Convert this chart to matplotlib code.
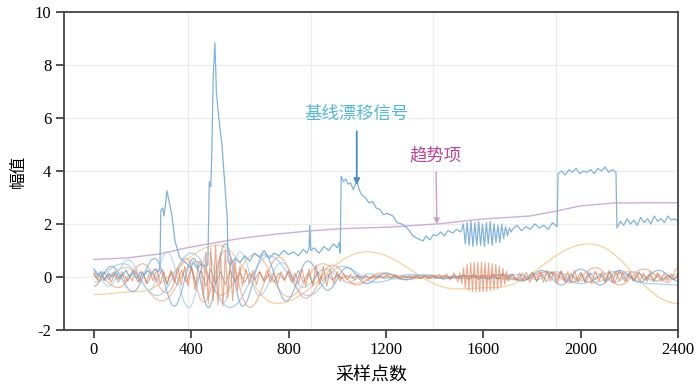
import numpy as np
import matplotlib.pyplot as plt
from matplotlib.path import Path
from matplotlib.patches import PathPatch

plt.rcParams['font.family'] = ['Liberation Serif', 'Noto Sans CJK SC']
plt.rcParams['axes.unicode_minus'] = False

# ---- baseline drift signal (segment by segment) ----
drift_a_y = [0.3, 0.05, 0.2, -0.1, 0.15, 0.0, 0.2, -0.05, 0.1, 0.25, 0.0, 0.15,
             -0.05, 0.2, 0.05, 0.25, 0.1, 0.3, 0.2]                     # x 0..265
drift_b_x = [271, 275, 283, 288, 296, 300, 308, 320, 333, 353, 382,
             395, 410, 425, 440, 455, 468,
             474, 480, 484, 490, 497, 500, 503, 510, 518, 526, 534, 542, 548, 551]
drift_b_y = [0.3, 2.5, 2.6, 2.3, 2.9, 3.25, 2.9, 2.35, 1.36, 0.72, 0.5,
             0.35, 0.55, 0.3, 0.5, 0.4, 0.45,
             3.6, 3.4, 4.5, 7.5, 8.84, 8.0, 7.0, 6.3, 5.6, 5.0, 4.0, 3.0, 2.2, 0.6]
drift_c_x = [560, 580, 600, 620, 640, 660, 680, 700, 720, 740, 760, 780, 800, 820,
             840, 860, 875, 884, 887, 891, 905, 925, 945, 965, 985, 1000, 1008, 1012]
drift_c_y = [0.45, 0.7, 0.55, 0.8, 0.6, 0.9, 0.75, 1.0, 0.7, 0.9, 0.8, 1.0, 0.85, 0.95,
             0.8, 1.05, 0.9, 1.1, 1.95, 1.0, 1.1, 0.9, 1.15, 1.0, 1.25, 1.1, 1.3, 0.9]
drift_d_x = [1016, 1025, 1035, 1045, 1055, 1065, 1075, 1080, 1090, 1100, 1115, 1130,
             1145, 1160, 1175, 1190, 1205, 1229, 1245, 1265, 1286, 1300, 1311, 1330,
             1352, 1365, 1380, 1395, 1409, 1425, 1440, 1455, 1475, 1490, 1505]
drift_d_y = [3.8, 3.6, 3.7, 3.5, 3.55, 3.3, 3.5, 3.6, 3.3, 3.1, 3.0, 2.8,
             2.85, 2.6, 2.55, 2.35, 2.4, 2.3, 2.05, 2.0, 1.85, 1.7, 1.55, 1.45,
             1.36, 1.55, 1.4, 1.6, 1.55, 1.7, 1.55, 1.75, 1.66, 1.8, 1.7]
drift_e_y = [1.75, 2.0, 1.25, 2.05, 1.2, 2.1, 1.15, 2.05, 1.2, 2.1, 1.2, 2.0, 1.15, 2.05,
             1.25, 2.1, 1.2, 2.0, 1.3, 1.95, 1.3, 2.0, 1.45, 1.9, 1.55, 1.85, 1.7]  # x 1510..1715
drift_f_y = [1.8, 1.95, 1.75, 1.9, 1.8, 2.0, 1.85, 1.95, 1.8, 2.05, 1.9]          # x 1720..1903
drift_g_y = [3.9, 4.0, 3.85, 4.05, 3.95, 4.1, 3.9, 4.0, 3.95, 4.05, 3.9, 4.1, 4.0,
             4.15, 3.95, 4.05, 3.95]                                               # x 1907..2145
drift_h_y = [1.85, 2.1, 1.95, 2.2, 2.0, 2.15, 1.95, 2.25, 2.05, 2.2, 2.0, 2.3, 2.1,
             2.2, 2.05, 2.3, 2.15, 2.2, 2.1]                                       # x 2149..2400

# ---- trend term ----
trend_x = [0, 136, 271, 382, 489, 612, 752, 887, 1011, 1175, 1245, 1422, 1586,
           1791, 1902, 1997, 2132, 2272, 2400]
trend_y = [0.66, 0.72, 0.87, 1.1, 1.28, 1.47, 1.62, 1.74, 1.82, 1.87, 1.9, 2.01, 2.18,
           2.3, 2.49, 2.68, 2.79, 2.8, 2.8]

# ---- slow / medium components (extrema) ----
yellow_x = [0, 180, 510, 750, 1120, 1490, 1650, 2035, 2400]
yellow_y = [-0.66, -0.55, 1.2, -1.0, 0.95, -0.45, -0.4, 1.25, -1.0]

steel_x = [0, 70, 160, 250, 330, 410, 470, 540, 610, 700, 790, 880, 960, 1040, 1120,
           1200, 1280, 1360, 1440, 1520, 1600, 1680, 1760, 1840, 1920, 2000, 2080,
           2160, 2240, 2320, 2400]
steel_y = [-0.35, 0.4, -0.55, 0.7, -1.1, 0.7, -1.15, 1.25, -1.1, 0.85, -0.9, 0.6, -0.5,
           0.35, -0.25, 0.15, -0.1, 0.08, -0.06, 0.05, -0.05, 0.1, -0.15, 0.25, -0.3,
           0.3, -0.3, 0.25, -0.2, 0.25, -0.15]

light_x = [0, 60, 140, 230, 300, 390, 470, 530, 600, 680, 770, 860, 950, 1040, 1130,
           1230, 1330, 1430, 1530, 1640, 1740, 1820, 1900, 1980, 2060, 2140, 2220,
           2300, 2400]
light_y = [0.25, -0.35, 0.65, -0.5, 0.95, -1.15, 0.9, -1.0, 0.95, -0.7, 0.55, -0.4, 0.3,
           -0.2, 0.12, -0.08, 0.05, -0.04, 0.04, -0.05, 0.08, -0.1, 0.2, -0.18, 0.15,
           -0.2, 0.2, -0.15, 0.1]

sky_x = [0, 120, 260, 400, 560, 720, 880, 1020, 1160, 1300, 1440, 1580, 1720, 1860,
         2000, 2140, 2280, 2400]
sky_y = [0.0, 0.5, -0.7, 0.9, -1.15, 0.8, -0.7, 0.4, -0.2, 0.1, -0.06, 0.05, -0.1,
         0.18, -0.25, 0.2, -0.25, -0.3]

salmon_x = [0, 100, 200, 300, 380, 450, 540, 640, 760, 870, 980, 1080, 1180, 1280,
            1400, 1520, 1640, 1760, 1860, 1960, 2060, 2160, 2260, 2360, 2400]
salmon_y = [0.15, -0.4, 0.5, -0.6, 0.7, -0.95, 1.0, -1.15, 0.75, -0.8, 0.45, -0.3,
            0.15, -0.1, 0.06, -0.05, 0.08, -0.12, 0.2, -0.2, 0.35, -0.3, 0.3, -0.2, 0.35]

peach_x = [0, 130, 280, 420, 520, 660, 800, 940, 1060, 1200, 1350, 1550, 1750, 1900,
           2050, 2200, 2320, 2400]
peach_y = [-0.2, 0.35, -0.9, 0.6, -0.7, 0.85, -0.75, 0.5, -0.25, 0.1, -0.05, 0.05,
           -0.1, 0.15, -0.2, 0.2, -0.15, 0.1]

# ---- high frequency components (segments of evenly spaced samples) ----
orange_segs = [
    (0, 430, [0.15, -0.1, 0.2, -0.15, 0.1, -0.2, 0.15, -0.1, 0.2, -0.2, 0.1, -0.15, 0.25,
              -0.2, 0.2, -0.25, 0.2, -0.15, 0.3, -0.25, 0.2, -0.3, 0.25, -0.2, 0.35,
              -0.3, 0.4, -0.35, 0.4, -0.5, 0.55]),
    (440, 600, [0.6, -0.8, 0.95, -1.0, 1.1, -0.9, 1.2, -1.05, 0.9, -1.1, 1.0, -0.8, 0.7,
                -0.9, 0.6, -0.5, 0.4]),
    (610, 1000, [-0.35, 0.3, -0.25, 0.25, -0.3, 0.2, -0.15, 0.25, -0.2, 0.15, -0.25, 0.2,
                 -0.15, 0.25, -0.2, 0.15, -0.25, 0.3, -0.35, 0.3, -0.35, 0.45, -0.3, 0.4,
                 -0.35, 0.3, -0.25, 0.2]),
    (1010, 1495, [-0.15, 0.12, -0.1, 0.1, -0.12, 0.08, -0.1, 0.06, -0.08, 0.07, -0.06,
                  0.05, -0.07, 0.06, -0.05, 0.07, -0.06, 0.05, -0.06, 0.07, -0.05, 0.06,
                  -0.07, 0.05, -0.06, 0.08, -0.07, 0.09, -0.1, 0.12, -0.12, 0.15, -0.18]),
    (1504, 1710, [0.15, -0.25, 0.35, -0.42, 0.48, -0.52, 0.55, -0.55, 0.56, -0.56, 0.55,
                  -0.56, 0.55, -0.55, 0.54, -0.55, 0.53, -0.52, 0.5, -0.5, 0.47, -0.45,
                  0.42, -0.38, 0.33, -0.28, 0.22, -0.16, 0.1]),
    (1720, 2400, [0.1, -0.12, 0.15, -0.15, 0.18, -0.2, 0.15, -0.18, 0.22, -0.2, 0.25,
                  -0.15, 0.2, -0.25, 0.18, -0.15, 0.2, -0.22, 0.25, -0.2, 0.15, -0.18,
                  0.2, -0.25, 0.22, -0.15, 0.18, -0.2, 0.25, -0.22, 0.2, -0.15, 0.15,
                  -0.18, 0.2, -0.15, 0.12, -0.15, 0.15, -0.18, 0.2, -0.15, 0.15, -0.12,
                  0.15, -0.15, 0.12, -0.1, 0.08]),
]
dark_segs = [
    (0, 600, [0.1, -0.15, 0.2, -0.1, 0.15, -0.2, 0.1, -0.15, 0.25, -0.2, 0.15, -0.25, 0.2,
              -0.15, 0.3, -0.25, 0.2, -0.3, 0.25, -0.2, 0.35, -0.3, 0.25, -0.35, 0.3,
              -0.25, 0.2, -0.3, 0.25, -0.2, 0.15]),
    (620, 1000, [-0.2, 0.15, -0.1, 0.2, -0.15, 0.1, -0.2, 0.15, -0.1, 0.2, -0.15, 0.25,
                 -0.2, 0.15, -0.25, 0.2, -0.15, 0.1, -0.12, 0.08]),
    (1020, 1500, [-0.06, 0.05, -0.04, 0.05, -0.03, 0.04, -0.05, 0.03, -0.04, 0.05, -0.03,
                  0.04, -0.05, 0.04, -0.03, 0.05, -0.04, 0.03, -0.05, 0.04, -0.03, 0.05,
                  -0.04, 0.06, -0.05]),
    (1520, 1700, [0.08, -0.1, 0.12, -0.1, 0.08, -0.12, 0.1, -0.08, 0.1, -0.06]),
    (1720, 2400, [0.1, -0.12, 0.15, -0.1, 0.18, -0.15, 0.12, -0.18, 0.2, -0.15, 0.25, -0.2,
                  0.15, -0.12, 0.18, -0.2, 0.15, -0.1, 0.12, -0.18, 0.2, -0.22, 0.25,
                  -0.15, 0.12, -0.15, 0.18, -0.12, 0.1, -0.15, 0.12, -0.1, 0.08, -0.1,
                  0.05]),
]

x_ticks = [0, 400, 800, 1200, 1600, 2000, 2400]
y_ticks = [-2, 0, 2, 4, 6, 8, 10]
x_grid = [385, 890, 1393, 1898]


def join(segs):
    xs, ys = [], []
    for a, b, vals in segs:
        xs.extend(np.linspace(a, b, len(vals)))
        ys.extend(vals)
    return np.array(xs), np.array(ys)


def smooth_line(ax, xs, ys, **kw):
    # cubic pieces with flat tangents at each read extremum
    verts = [(xs[0], ys[0])]
    codes = [Path.MOVETO]
    for i in range(1, len(xs)):
        d = (xs[i] - xs[i - 1]) / 2.6
        verts += [(xs[i - 1] + d, ys[i - 1]), (xs[i] - d, ys[i]), (xs[i], ys[i])]
        codes += [Path.CURVE4] * 3
    ax.add_patch(PathPatch(Path(verts, codes), fill=False, **kw))


drift_x = np.concatenate([np.linspace(0, 265, len(drift_a_y)), drift_b_x, drift_c_x,
                          drift_d_x, np.linspace(1510, 1715, len(drift_e_y)),
                          np.linspace(1720, 1903, len(drift_f_y)),
                          np.linspace(1907, 2145, len(drift_g_y)),
                          np.linspace(2149, 2400, len(drift_h_y))])
drift_y = np.concatenate([drift_a_y, drift_b_y, drift_c_y, drift_d_y, drift_e_y,
                          drift_f_y, drift_g_y, drift_h_y])

fig = plt.figure(figsize=(7, 3.89), dpi=100)
ax = fig.add_axes([0.0914, 0.1517, 0.8772, 0.8175])

smooth_line(ax, yellow_x, yellow_y, color='#f7cc95', lw=0.9, alpha=0.9)
smooth_line(ax, sky_x, sky_y, color='#9fcdee', lw=0.9, alpha=0.85)
smooth_line(ax, peach_x, peach_y, color='#f5b898', lw=0.9, alpha=0.8)
smooth_line(ax, light_x, light_y, color='#b2d8f0', lw=0.9, alpha=0.9)
smooth_line(ax, salmon_x, salmon_y, color='#f0a586', lw=0.9, alpha=0.75)
smooth_line(ax, steel_x, steel_y, color='#7eaad4', lw=0.9, alpha=0.75)

ox, oy = join(orange_segs)
ax.plot(ox, oy, color='#e8865c', lw=0.8, alpha=0.7)
dx, dy = join(dark_segs)
ax.plot(dx, dy, color='#9a7a70', lw=0.7, alpha=0.6)

ax.plot(trend_x, trend_y, color='#cfadda', lw=1.0)
ax.plot(drift_x, drift_y, color='#82b3da', lw=0.9)

ax.annotate('基线漂移信号', xy=(1080, 3.47), xytext=(1080, 6.15),
            ha='center', va='center', fontsize=12.5, color='#55b6dd',
            family=['Noto Sans CJK SC'],
            arrowprops=dict(arrowstyle='-|>', color='#4a8fc0', lw=1.3,
                            mutation_scale=9, shrinkA=4, shrinkB=0))
ax.annotate('趋势项', xy=(1409, 2.0), xytext=(1405, 4.57),
            ha='center', va='center', fontsize=12.5, color='#b8479a',
            family=['Noto Sans CJK SC'],
            arrowprops=dict(arrowstyle='-|>', color='#c99cc9', lw=1.0,
                            mutation_scale=8, shrinkA=3, shrinkB=0))

ax.set_xlim(-123, 2400)
ax.set_ylim(-2, 10)
ax.set_xticks(x_ticks)
ax.set_yticks(y_ticks)
ax.set_xticks(x_grid, minor=True)
ax.tick_params(which='minor', length=0)
ax.tick_params(which='major', direction='out', length=6, width=1.2, color='#333333',
               labelsize=12, pad=3)
ax.grid(True, which='major', axis='y', color='#ececec', lw=0.9)
ax.grid(True, which='minor', axis='x', color='#ececec', lw=0.9)
ax.set_axisbelow(True)
for s in ax.spines.values():
    s.set_color('#444444')
    s.set_linewidth(1.3)

ax.set_xlabel('采样点数', fontsize=13, family=['Noto Sans CJK SC'], labelpad=6)
ax.set_ylabel('幅值', fontsize=12, family=['Noto Sans CJK SC'], labelpad=6)

fig.savefig('out.png', dpi=100)
